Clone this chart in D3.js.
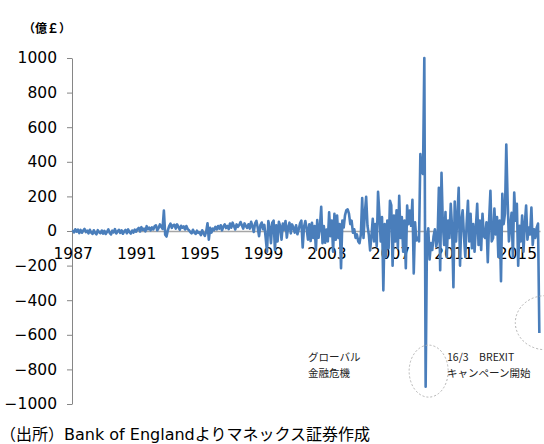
<!DOCTYPE html>
<html>
<head>
<meta charset="utf-8">
<script src="https://cdn.jsdelivr.net/npm/d3@7/dist/d3.min.js"></script>
<style>
  html, body { margin: 0; padding: 0; background: #fff; }
  svg { display: block; }
</style>
</head>
<body>
<script>
// Monthly flow (億£), January 1987 through June 2016
const startYear = 1987;
const monthlyFlow = [
  5, -8, 10, -4, 8, -12, 6, -10, 3, 12, -6, 2,                 // 1987
  -14, 7, -9, -17, 4, -11, -19, 5, -7, -13, 3, -15,            // 1988
  1, -17, -5, 9, -11, -20, 2, -8, 11, -14, -3, 7,              // 1989
  -11, 4, -16, -2, 6, -13, 9, -7, -15, 3, -9, 8,               // 1990
  -4, 11, 18, -3, 22, 6, 14, -2, 28, 10, 19, 4,                // 1991
  21, 9, 27, 33, 4, 17, 38, 24, 12, 118, -22, -32,             // 1992
  4, 28, 42, 18, 33, 36, 14, 38, 24, 7, 30, 19,                // 1993
  26, 9, 29, 11, 4, -6, -14, 7, -9, -17, 2, -11,               // 1994
  -8, -24, 4, -14, -28, -4, 45, -50, 18, -9, 14, 5,            // 1995
  24, 9, 29, 14, 33, 4, 26, 38, 17, 29, 11, 43,                // 1996
  19, 48, 28, 9, 38, 24, 35, 52, 33, 14, 44, 29,               // 1997
  18, 39, 14, 53, 28, -5, 44, 58, 19, -30, 34, 49,             // 1998
  10, 35, -40, -120, 58, 20, -70, 48, 60, -110, 33, -60,       // 1999
  53, 28, -50, 43, 8, 58, -38, 23, 48, -14, 38, 19,            // 2000
  -9, 33, -19, 9, 44, 60, -95, 24, 58, 14, -50, 39,            // 2001
  -58, 48, -40, 28, -110, 63, -39, 19, 140, -70, 29, -68,      // 2002
  9, -60, 108, -30, 60, -120, 100, -50, 90, -40, 40, -215,     // 2003
  60, 20, 90, 120, 125, 100, 40, 60, -10, 10, -40, -20,        // 2004
  -60, -70, -20, 190, -40, 100, 198, 30, -20, -112, -30, 70,   // 2005
  -60, 40, -88, 227, 100, -60, 80, -343, 40, -150, 60, -100,   // 2006
  175, 150, -200, 90, -60, 120, -100, 204, -40, 80, -120, 60,  // 2007
  -215, 147, 40, 118, 30, 180, -245, 50, -55, -40, -60, 445,   // 2008
  340, 330, 1000, -900, -40, 15, -165, -70, -110, -30, 10, -90, // 2009
  -50, 250, -227, 337, 40, -80, 110, -150, 60, -40, 157, 20,   // 2010
  -325, 170, -60, 80, 250, -200, 60, 120, -30, -150, 40, 175,  // 2011
  -60, 100, -100, 40, -120, 20, 157, -80, 60, -110, 100, -30,  // 2012
  -40, 50, -180, 60, 233, -60, -40, 130, -20, 80, -150, 60,    // 2013
  -290, 215, 40, 100, 500, 180, -60, 30, 105, -150, 222, 60,   // 2014
  157, -200, 30, -60, 90, -120, 40, 147, -50, 20, -20, 135,    // 2015
  -80, 10, -40, 20, 43, -590                                   // 2016
];
const yearLabels = [1987, 1991, 1995, 1999, 2003, 2007, 2011, 2015];
const yTicks = [1000, 800, 600, 400, 200, 0, -200, -400, -600, -800, -1000];
const unitLabel = "（億￡）";
const sourceNote = "（出所）Bank of Englandよりマネックス証券作成";
const crisisNote = ["グローバル", "金融危機"];
const brexitNote = ["16/3　BREXIT", "キャンペーン開始"];

const W = 544, H = 444;
const svg = d3.select("body").append("svg")
  .attr("width", W).attr("height", H);

const x = d3.scalePoint()
  .domain(d3.range(monthlyFlow.length))
  .range([72, 540])
  .padding(0.5);
const y = d3.scaleLinear().domain([-1000, 1000]).range([404, 58]);

const numFont = "'DejaVu Sans', Verdana, sans-serif";
const jpFont = "'Noto Sans CJK JP', sans-serif";
const mixedFont = "'DejaVu Sans', 'Noto Sans CJK JP', sans-serif";

// Value axis
const yAxis = svg.append("g")
  .attr("transform", "translate(72,0)")
  .call(d3.axisLeft(y).tickValues(yTicks).tickSize(5).tickSizeOuter(0).tickPadding(10)
    .tickFormat(d3.format("d")));
yAxis.select(".domain").attr("stroke", "#868686");
yAxis.selectAll(".tick line").attr("stroke", "#868686");
yAxis.selectAll("text")
  .attr("font-family", numFont).attr("font-size", 15.5).attr("fill", "#000");

// Category axis along the zero line
const monthIndex = yr => (yr - startYear) * 12;
const xAxis = svg.append("g")
  .attr("transform", `translate(0,${y(0)})`)
  .call(d3.axisBottom(x)
    .tickValues(yearLabels.map(monthIndex))
    .tickFormat(i => String(startYear + Math.floor(i / 12)))
    .tickSize(0).tickSizeOuter(0).tickPadding(17));
xAxis.select(".domain").attr("stroke", "#a6a6a6").attr("stroke-width", 1.5);
xAxis.selectAll("text")
  .attr("font-family", numFont).attr("font-size", 15.5).attr("fill", "#000");

// Series line
const line = d3.line()
  .x((d, i) => x(i))
  .y(d => y(d));
svg.append("path")
  .datum(monthlyFlow)
  .attr("d", line)
  .attr("fill", "none")
  .attr("stroke", "#4a7ebb")
  .attr("stroke-width", 2.6)
  .attr("stroke-linejoin", "round");

// Unit label
svg.append("text")
  .attr("x", 23).attr("y", 33)
  .attr("font-family", jpFont).attr("font-size", 12).attr("font-weight", "bold")
  .attr("fill", "#000")
  .text(unitLabel);

// Dotted ellipses marking events
const crisisIdx = monthIndex(2009) + 3;
const lastIdx = monthlyFlow.length - 1;
svg.append("ellipse")
  .attr("cx", x(crisisIdx) + 3).attr("cy", y(-810)).attr("rx", 19.5).attr("ry", 26)
  .attr("fill", "none").attr("stroke", "#b4b4b4").attr("stroke-width", 1)
  .attr("stroke-dasharray", "2,2");
svg.append("ellipse")
  .attr("cx", x(lastIdx) + 6).attr("cy", y(-530)).attr("rx", 30).attr("ry", 27)
  .attr("fill", "none").attr("stroke", "#b4b4b4").attr("stroke-width", 1)
  .attr("stroke-dasharray", "2,2");

// Event annotations
function note(lines, x0, y0) {
  const t = svg.append("text")
    .attr("font-family", jpFont).attr("font-size", 10.5).attr("fill", "#222");
  lines.forEach((s, i) => {
    t.append("tspan").attr("x", x0).attr("y", y0 + i * 16).text(s);
  });
}
note(crisisNote, 308, 361);
note(brexitNote, 447, 361);

// Source note
svg.append("text")
  .attr("x", 0).attr("y", 440)
  .attr("font-family", mixedFont).attr("font-size", 16).attr("fill", "#000")
  .text(sourceNote);
</script>
</body>
</html>
